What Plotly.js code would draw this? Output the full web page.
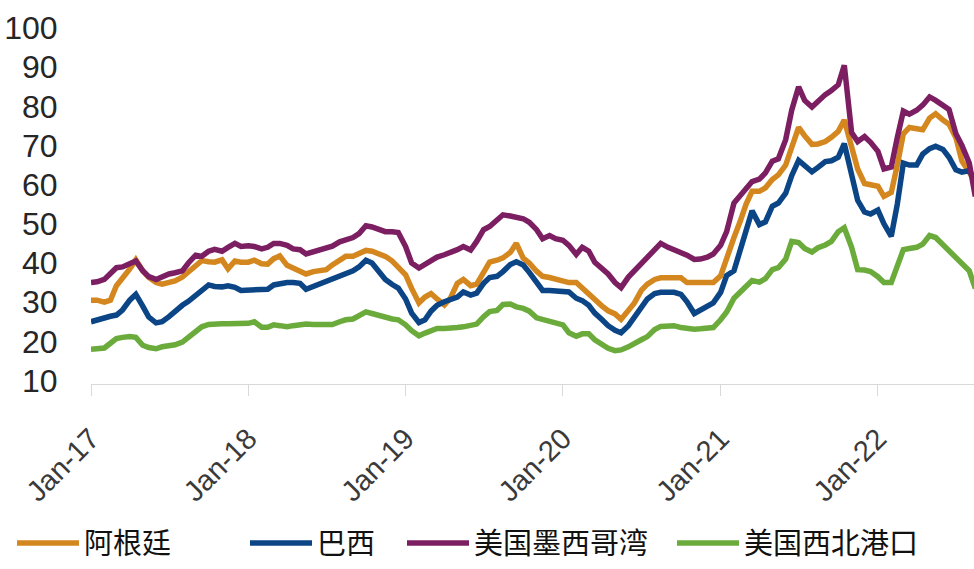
<!DOCTYPE html>
<html>
<head>
<meta charset="utf-8">
<script src="https://cdn.plot.ly/plotly-3.0.1.min.js"></script>
<style>html,body{margin:0;padding:0;background:#fff;}#chart{width:974px;height:569px;}</style>
</head>
<body>
<div id="chart"></div>
<script>
const dates = [
'2017-01-01','2017-01-15','2017-02-01','2017-02-15','2017-03-01','2017-03-15','2017-04-01','2017-04-15','2017-05-01','2017-05-15','2017-06-01','2017-06-15','2017-07-01','2017-07-15','2017-08-01','2017-08-15','2017-09-01','2017-09-15','2017-10-01','2017-10-15','2017-11-01','2017-11-15','2017-12-01','2017-12-15',
'2018-01-01','2018-01-15','2018-02-01','2018-02-15','2018-03-01','2018-03-15','2018-04-01','2018-04-15','2018-05-01','2018-05-15','2018-06-01','2018-06-15','2018-07-01','2018-07-15','2018-08-01','2018-08-15','2018-09-01','2018-09-15','2018-10-01','2018-10-15','2018-11-01','2018-11-15','2018-12-01','2018-12-15',
'2019-01-01','2019-01-15','2019-02-01','2019-02-15','2019-03-01','2019-03-15','2019-04-01','2019-04-15','2019-05-01','2019-05-15','2019-06-01','2019-06-15','2019-07-01','2019-07-15','2019-08-01','2019-08-15','2019-09-01','2019-09-15','2019-10-01','2019-10-15','2019-11-01','2019-11-15','2019-12-01','2019-12-15',
'2020-01-01','2020-01-15','2020-02-01','2020-02-15','2020-03-01','2020-03-15','2020-04-01','2020-04-15','2020-05-01','2020-05-15','2020-06-01','2020-06-15','2020-07-01','2020-07-15','2020-08-01','2020-08-15','2020-09-01','2020-09-15','2020-10-01','2020-10-15','2020-11-01','2020-11-15','2020-12-01','2020-12-15',
'2021-01-01','2021-01-15','2021-02-01','2021-02-15','2021-03-01','2021-03-15','2021-04-01','2021-04-15','2021-05-01','2021-05-15','2021-06-01','2021-06-15','2021-07-01','2021-07-15','2021-08-01','2021-08-15','2021-09-01','2021-09-15','2021-10-01','2021-10-15','2021-11-01','2021-11-15','2021-12-01','2021-12-15',
'2022-01-01','2022-01-15','2022-02-01','2022-02-15','2022-03-01','2022-03-15','2022-04-01','2022-04-15','2022-05-01','2022-05-15','2022-06-01','2022-06-15','2022-07-01','2022-07-15','2022-08-01','2022-08-15'
];

// 阿根廷
const argentina = [
30.5,30.5,30.0,30.5,34.2,36.0,38.5,40.8,38.0,36.3,35.0,34.6,35.1,35.4,36.4,37.8,39.4,40.6,40.3,40.2,40.8,38.5,40.5,40.2,
40.2,40.7,39.8,39.7,41.1,41.8,39.4,38.6,37.8,37.2,37.8,38.2,38.3,39.5,40.8,41.7,41.7,42.5,43.2,43.0,42.4,41.7,40.5,38.8,
37.0,33.5,29.8,31.3,32.2,30.8,29.3,31.0,34.8,35.8,34.2,34.6,37.8,40.2,40.7,41.3,42.7,45.0,41.2,40.0,37.9,36.6,36.3,35.9,
35.4,35.0,35.0,33.6,31.8,30.4,29.0,27.8,27.0,25.6,27.7,29.8,33.0,34.6,35.8,36.2,36.2,36.2,36.2,35.0,35.0,35.0,35.0,35.0,
36.7,41.5,46.5,50.5,55.0,58.3,58.3,59.2,61.3,62.5,65.0,69.5,74.6,72.5,70.3,70.4,71.0,72.1,73.6,76.5,69.2,64.0,60.3,60.0,
59.6,57.0,58.0,65.0,73.0,74.6,74.4,74.0,77.0,78.1,76.5,75.4,72.0,66.0,63.2,60.5
];

// 巴西
const brazil = [
25.0,25.5,26.2,26.4,26.7,28.0,30.5,32.0,29.0,26.2,24.7,25.0,26.3,27.8,29.2,30.2,31.6,33.0,34.4,34.0,33.9,34.2,33.8,33.0,
33.0,33.0,33.0,33.3,34.4,34.8,35.0,35.0,34.8,33.3,34.0,34.6,35.3,36.0,36.8,37.4,38.0,39.0,40.7,40.0,37.8,35.8,34.5,33.6,
30.8,27.2,24.8,25.5,27.7,29.2,30.1,30.6,31.3,32.6,31.8,32.3,34.8,36.3,36.6,37.8,39.6,40.3,39.5,37.6,35.0,33.0,33.0,32.8,
32.7,32.6,31.0,30.4,29.2,27.2,25.5,24.0,22.8,22.2,24.0,26.2,28.8,30.8,32.2,32.5,32.5,32.5,32.0,30.1,27.1,28.0,29.0,29.8,
32.5,36.8,38.0,43.0,49.0,53.3,49.8,50.5,54.5,55.3,57.8,62.3,66.2,64.8,63.3,64.4,65.9,66.1,67.0,70.5,62.5,56.0,53.0,52.5,
53.5,50.0,46.8,55.0,65.5,65.0,65.0,67.8,69.2,69.8,69.0,67.0,63.8,63.2,63.6,61.0
];

// 美国墨西哥湾
const usGulf = [
35.0,35.2,35.8,37.5,38.8,39.0,40.0,40.5,38.0,36.5,35.8,36.5,37.2,37.5,38.0,40.0,42.0,41.7,43.0,43.5,43.0,44.0,45.0,44.2,
44.4,44.2,43.6,44.0,45.0,45.0,44.5,43.6,43.4,42.3,42.8,43.4,43.8,44.3,45.4,46.0,46.5,47.5,49.5,49.2,48.4,48.0,48.0,47.8,
44.2,40.0,38.7,39.6,40.9,41.5,42.1,42.6,43.4,44.2,43.3,45.5,48.5,49.3,50.8,52.3,52.0,51.6,51.3,50.4,48.5,46.2,47.0,46.2,
45.8,44.5,42.2,44.0,43.0,40.2,38.4,37.2,35.0,33.7,36.4,38.0,40.0,41.6,43.5,45.0,44.0,43.4,42.8,42.0,40.9,41.0,41.5,42.3,
44.5,48.0,55.3,57.3,59.3,60.8,61.4,63.0,66.0,66.6,71.5,79.0,85.0,81.5,79.8,81.3,83.0,84.0,85.5,90.5,73.3,71.0,72.3,70.8,
68.5,64.0,64.5,72.0,78.8,78.0,79.0,80.3,82.4,81.5,80.3,79.2,73.0,70.0,65.5,57.0
];

// 美国西北港口
const usPNW = [
18.0,18.0,18.3,19.5,20.7,21.0,21.2,21.0,19.0,18.4,18.1,18.6,18.9,19.1,19.8,21.0,22.8,23.7,24.3,24.5,24.5,24.5,24.5,24.3,
24.6,25.0,23.6,23.6,24.2,24.0,23.7,24.0,24.4,24.4,24.3,24.2,24.2,24.3,25.0,25.5,25.7,26.5,27.5,27.1,26.5,26.1,25.7,25.5,
24.2,22.7,21.4,22.1,22.7,23.3,23.3,23.3,23.5,23.7,24.1,24.4,26.3,27.6,27.9,29.4,29.5,28.8,28.4,27.7,26.0,25.6,25.2,24.6,
24.2,22.2,21.3,21.9,21.9,20.4,19.2,18.2,17.6,17.8,18.6,19.6,20.4,21.2,23.0,23.8,24.1,24.0,23.5,23.2,23.1,23.2,23.5,23.5,
25.5,27.5,31.0,32.6,34.2,35.5,35.1,36.0,38.3,38.8,41.0,45.5,45.2,43.7,42.8,43.9,44.6,45.5,48.0,49.0,44.0,38.3,38.2,37.8,
36.5,35.0,35.0,39.5,43.4,43.7,44.0,44.8,47.0,46.5,44.6,43.0,41.5,39.7,38.0,33.5
];

const names = ['阿根廷', '巴西', '美国墨西哥湾', '美国西北港口'];
const colors = ['#D4871E', '#0B4586', '#7C1F62', '#6BAB3C'];
const series = [argentina, brazil, usGulf, usPNW];
const legendIds = ['legend', 'legend2', 'legend3', 'legend4'];

const traces = series.map((vals, i) => ({
  type: 'scatter',
  mode: 'lines',
  x: dates,
  y: vals,
  name: names[i],
  legend: legendIds[i],
  line: {color: colors[i], width: 5.5, shape: 'linear'}
}));

const legendFont = {family: '"Noto Sans CJK SC", "Liberation Sans", sans-serif', size: 29, color: '#111'};
function mkLegend(xpx) {
  return {
    orientation: 'h', xanchor: 'left', yanchor: 'middle',
    x: (xpx - 91) / 883, y: -0.447,
    font: legendFont, itemwidth: 62, bgcolor: 'rgba(0,0,0,0)', borderwidth: 0,
    tracegroupgap: 0
  };
}

const layout = {
  width: 974, height: 569,
  margin: {l: 91, r: 0, t: 28, b: 177},
  paper_bgcolor: '#ffffff', plot_bgcolor: '#ffffff',
  showlegend: true,
  xaxis: {
    type: 'date',
    automargin: false,
    range: ['2017-01-01', '2022-08-12'],
    tick0: '2017-01-01', dtick: 'M12', tickformat: '%b-%y',
    tickangle: -45,
    ticks: 'outside', ticklen: 11, tickcolor: '#d9d9d9', tickwidth: 1,
    ticklabelstandoff: 14,
    showline: true, linecolor: '#d9d9d9', linewidth: 1,
    showgrid: false, zeroline: false,
    tickfont: {family: '"Liberation Sans", Arial, sans-serif', size: 29, color: '#3a3a3a'}
  },
  yaxis: {
    automargin: false,
    range: [9.1, 100],
    tick0: 10, dtick: 10,
    ticks: 'outside', ticklen: 26, tickcolor: 'rgba(0,0,0,0)',
    showline: false, showgrid: false, zeroline: false,
    tickfont: {family: '"Liberation Sans", Arial, sans-serif', size: 32, color: '#262626'}
  },
  legend: mkLegend(12),
  legend2: mkLegend(245),
  legend3: mkLegend(402),
  legend4: mkLegend(672)
};

Plotly.newPlot('chart', traces, layout, {displayModeBar: false, staticPlot: true});
</script>
</body>
</html>
